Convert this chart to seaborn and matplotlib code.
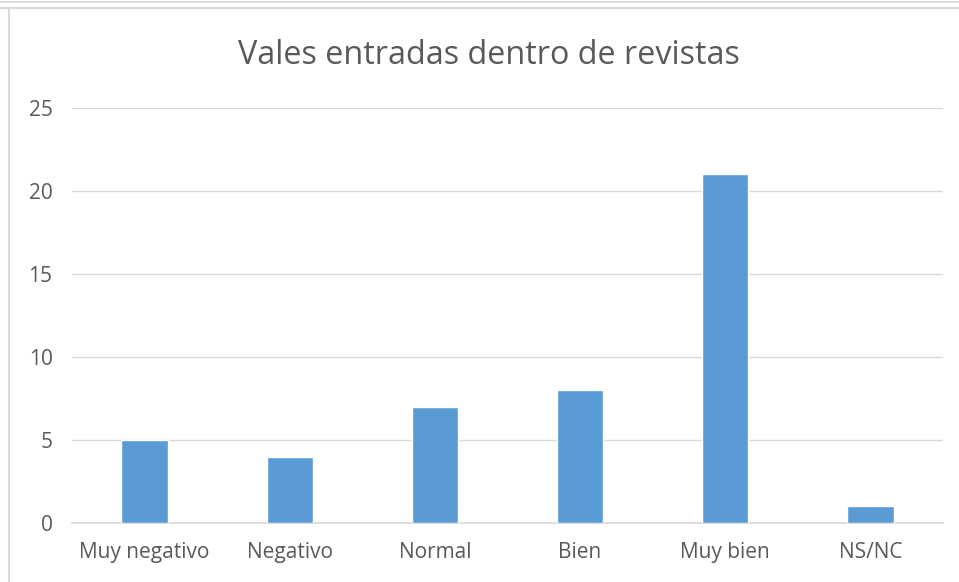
import matplotlib
matplotlib.use("Agg")
import matplotlib.pyplot as plt
from matplotlib.lines import Line2D
import pandas as pd
import seaborn as sns

# data
categorias = ["Muy negativo", "Negativo", "Normal", "Bien", "Muy bien", "NS/NC"]
valores = [5, 4, 7, 8, 21, 1]
ticks_y = [0, 5, 10, 15, 20, 25]

df = pd.DataFrame({"categoria": categorias, "valor": valores})

sns.set_theme(style="white")
plt.rcParams["font.family"] = ["Open Sans", "DejaVu Sans"]

gris = "#595959"
fig = plt.figure(figsize=(9.59, 5.82), dpi=100)
ax = fig.add_axes([72 / 959, 1 - 523 / 582, (943 - 72) / 959, (523 - 108) / 582])

sns.barplot(data=df, x="categoria", y="valor", color="#5B9BD5", width=0.32,
            saturation=1, ax=ax, zorder=3)

ax.set_ylim(0, 25)
ax.set_yticks(ticks_y)
ax.set_xlim(-0.5, len(categorias) - 0.5)
ax.grid(axis="y", color="#D9D9D9", linewidth=1, zorder=0)
for s in ["top", "right", "left"]:
    ax.spines[s].set_visible(False)
ax.spines["bottom"].set_color("#D9D9D9")
ax.tick_params(axis="both", length=0, labelsize=15, labelcolor=gris)
ax.tick_params(axis="y", pad=14)
ax.tick_params(axis="x", pad=14)
ax.set_xlabel("")
ax.set_ylabel("")

fig.text(489 / 959, 1 - 56 / 582, "Vales entradas dentro de revistas",
         ha="center", va="center", fontsize=23.3, color=gris)

# outer frame lines
fig.add_artist(Line2D([0, 1], [1 - 2 / 582, 1 - 2 / 582], color="#D9D9D9", lw=1.2))
fig.add_artist(Line2D([0, 1], [1 - 8 / 582, 1 - 8 / 582], color="#D9D9D9", lw=1.5))
fig.add_artist(Line2D([9 / 959, 9 / 959], [0, 1 - 8 / 582], color="#D9D9D9", lw=1.5))

fig.savefig("out.png", dpi=100)
